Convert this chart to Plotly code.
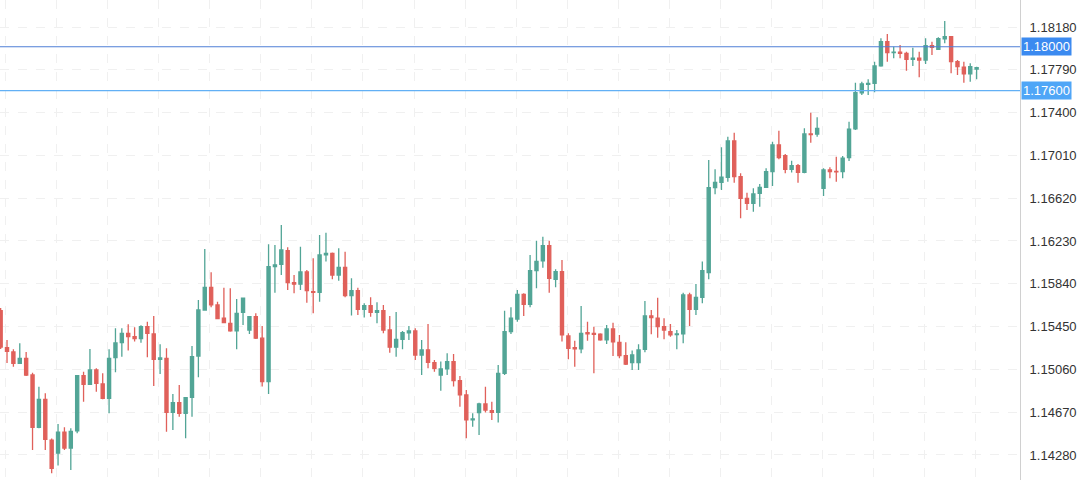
import plotly.graph_objects as go

opens = [1.15595,1.15257,1.15219,1.15115,1.15161,1.15009,1.14532,1.14787,1.14416,1.14298,
1.14489,1.14343,1.14501,1.15003,1.14924,1.15055,1.14927,1.14797,1.15167,1.15303,
1.15389,1.15358,1.15340,1.15449,1.15383,1.15152,1.15161,1.14669,1.14756,1.14660,
1.14806,1.15182,1.15601,1.15808,1.15647,1.15526,1.15480,1.15410,1.15580,1.15419,
1.15540,1.15344,1.14949,1.15996,1.16018,1.16142,1.15850,1.15836,1.15948,1.15768,
1.15763,1.16103,1.16118,1.15920,1.15990,1.15732,1.15777,1.15608,1.15641,1.15580,
1.15595,1.15419,1.15262,1.15334,1.15394,1.15410,1.15191,1.15237,1.15121,1.15009,
1.15064,1.15131,1.14957,1.14827,1.14599,1.14666,1.14745,1.14684,1.14669,1.15024,
1.15404,1.15519,1.15744,1.15653,1.15960,1.16048,1.16187,1.15881,1.15950,1.15365,
1.15258,1.15246,1.15394,1.15389,1.15380,1.15328,1.15428,1.15307,1.15185,1.15121,
1.15121,1.15243,1.15547,1.15526,1.15449,1.15404,1.15377,1.15383,1.15738,1.15608,
1.15717,1.15941,1.16716,1.16765,1.16811,1.17141,1.16816,1.16619,1.16574,1.16665,
1.16719,1.16862,1.17105,1.17007,1.16883,1.16916,1.16856,1.17205,1.17205,1.16710,
1.16877,1.16864,1.16862,1.16989,1.17251,1.17581,1.17658,1.17667,1.17825,1.18046,
1.17946,1.17950,1.17940,1.17886,1.17895,1.17879,1.18010,1.17977,1.18073,1.18092,
1.17864,1.17813,1.17752,1.17797]
highs = [1.15619,1.15328,1.15243,1.15298,1.15219,1.15030,1.14902,1.14842,1.14431,1.14562,
1.14532,1.14523,1.15009,1.15039,1.15246,1.15070,1.15024,1.15243,1.15435,1.15435,
1.15471,1.15444,1.15462,1.15495,1.15547,1.15289,1.15252,1.14836,1.14918,1.14802,
1.15273,1.15692,1.16157,1.15945,1.15677,1.15805,1.15799,1.15702,1.15708,1.15540,
1.15571,1.15455,1.16200,1.16194,1.16376,1.16173,1.15920,1.16178,1.15966,1.16073,
1.16285,1.16306,1.16124,1.16164,1.16133,1.15890,1.15805,1.15663,1.15717,1.15672,
1.15647,1.15547,1.15583,1.15410,1.15455,1.15435,1.15328,1.15474,1.15146,1.15131,
1.15207,1.15201,1.15000,1.14873,1.14660,1.14756,1.14902,1.14766,1.15100,1.15595,
1.15626,1.15784,1.15753,1.16103,1.16233,1.16269,1.16233,1.15972,1.16057,1.15389,
1.15322,1.15638,1.15495,1.15449,1.15389,1.15465,1.15486,1.15374,1.15307,1.15231,
1.15289,1.15684,1.15601,1.15713,1.15526,1.15474,1.15419,1.15759,1.15759,1.15839,
1.16042,1.16968,1.16884,1.17084,1.17180,1.17217,1.16847,1.16670,1.16710,1.16749,
1.16893,1.17135,1.17235,1.17023,1.16962,1.16932,1.17257,1.17399,1.17357,1.16893,
1.16902,1.16998,1.17005,1.17317,1.17672,1.17682,1.17703,1.17864,1.18077,1.18116,
1.18001,1.18016,1.17955,1.17991,1.17955,1.18077,1.18046,1.18086,1.18235,1.18098,
1.17879,1.17864,1.17849,1.17818]
lows = [1.15246,1.15118,1.15084,1.15112,1.15000,1.14325,1.14523,1.14325,1.14113,1.14185,
1.14325,1.14143,1.14477,1.14766,1.14918,1.14857,1.14787,1.14660,1.15034,1.15176,
1.15231,1.15313,1.15303,1.15170,1.14909,1.15018,1.14492,1.14508,1.14629,1.14432,
1.14629,1.14988,1.15598,1.15626,1.15517,1.15480,1.15404,1.15243,1.15465,1.15383,
1.15337,1.14903,1.14836,1.15759,1.15920,1.15784,1.15754,1.15784,1.15668,1.15571,
1.15677,1.16042,1.15881,1.15868,1.15717,1.15550,1.15556,1.15532,1.15540,1.15480,
1.15389,1.15212,1.15176,1.15243,1.15328,1.15146,1.15009,1.15070,1.15039,1.14866,
1.15009,1.14903,1.14720,1.14432,1.14538,1.14462,1.14666,1.14599,1.14575,1.15009,
1.15383,1.15495,1.15547,1.15626,1.15799,1.15987,1.15759,1.15808,1.15313,1.15152,
1.15084,1.15207,1.15322,1.15024,1.15322,1.15292,1.15182,1.15161,1.15100,1.15055,
1.15055,1.15216,1.15380,1.15349,1.15334,1.15358,1.15243,1.15298,1.15455,1.15556,
1.15663,1.15881,1.16656,1.16695,1.16770,1.16761,1.16437,1.16512,1.16497,1.16543,
1.16716,1.16731,1.16975,1.16847,1.16853,1.16761,1.16847,1.17126,1.17180,1.16640,
1.16802,1.16770,1.16802,1.16959,1.17241,1.17561,1.17561,1.17585,1.17818,1.17864,
1.17895,1.17895,1.17782,1.17825,1.17722,1.17843,1.17925,1.17970,1.18031,1.17758,
1.17743,1.17673,1.17682,1.17703]
closes = [1.15264,1.15224,1.15115,1.15161,1.15009,1.14532,1.14787,1.14423,1.14158,1.14489,
1.14343,1.14495,1.15003,1.14924,1.15055,1.14933,1.14797,1.15161,1.15301,1.15389,
1.15358,1.15340,1.15449,1.15389,1.15152,1.15164,1.14669,1.14756,1.14660,1.14802,
1.15176,1.15601,1.15808,1.15647,1.15522,1.15486,1.15410,1.15571,1.15708,1.15540,
1.15344,1.14949,1.15996,1.16011,1.16148,1.15850,1.15836,1.15948,1.15777,1.15763,
1.16103,1.16118,1.15920,1.15990,1.15732,1.15777,1.15608,1.15641,1.15580,1.15595,
1.15419,1.15262,1.15334,1.15394,1.15410,1.15191,1.15237,1.15125,1.15070,1.15064,
1.15131,1.14957,1.14827,1.14599,1.14608,1.14745,1.14690,1.14669,1.15024,1.15404,
1.15526,1.15744,1.15653,1.15960,1.16045,1.16187,1.15890,1.15950,1.15374,1.15252,
1.15246,1.15389,1.15383,1.15380,1.15328,1.15428,1.15310,1.15185,1.15107,1.15191,
1.15237,1.15547,1.15532,1.15449,1.15419,1.15374,1.15383,1.15738,1.15608,1.15717,
1.15960,1.16716,1.16765,1.16811,1.17141,1.16816,1.16619,1.16574,1.16659,1.16719,
1.16862,1.17105,1.16989,1.16883,1.16916,1.16856,1.17205,1.17199,1.17257,1.16877,
1.16862,1.16859,1.16984,1.17248,1.17581,1.17661,1.17667,1.17825,1.18046,1.17946,
1.17950,1.17940,1.17886,1.17895,1.17879,1.18010,1.17995,1.18073,1.18092,1.17864,
1.17818,1.17752,1.17818,1.17809]

tick_vals = [1.14280,1.14670,1.15060,1.15450,1.15840,1.16230,1.16620,1.17010,1.17400,1.17790,1.18180]
levels = [1.18000, 1.17600]
level_line_colors = ["#4f7fd6", "#62b0f5"]
level_bg_colors = ["#3b8af0", "#4fa6f7"]

x = list(range(len(opens)))

fig = go.Figure(go.Candlestick(
    x=x, open=opens, high=highs, low=lows, close=closes,
    increasing=dict(line=dict(color="#52a596", width=1.3), fillcolor="#52a596"),
    decreasing=dict(line=dict(color="#e0605a", width=1.3), fillcolor="#e0605a"),
    whiskerwidth=0, hoverinfo="skip"))

for lv, lc, bg in zip(levels, level_line_colors, level_bg_colors):
    fig.add_shape(type="line", xref="paper", x0=0, x1=1, y0=lv, y1=lv,
                  line=dict(color=lc, width=1.2))
    fig.add_annotation(xref="paper", x=1.0, y=lv, xanchor="left", yanchor="middle",
                       text=f"{lv:.5f}", showarrow=False, bgcolor=bg,
                       font=dict(color="white", size=13, family="Liberation Sans"),
                       borderpad=1, xshift=1)

fig.update_layout(
    width=1080, height=480, margin=dict(l=0, r=60, t=0, b=0),
    paper_bgcolor="white", plot_bgcolor="white", showlegend=False,
    xaxis=dict(range=[-0.1, 159.8], rangeslider=dict(visible=False),
               showticklabels=False, tick0=0.8, dtick=8,
               showgrid=True, gridcolor="#f0f0f0", griddash="dash", zeroline=False),
    yaxis=dict(side="right", range=[1.14052, 1.18426], tickvals=tick_vals,
               ticktext=[f"{v:.5f}" for v in tick_vals],
               tickfont=dict(size=13, color="#333333", family="Liberation Sans"),
               showgrid=True, gridcolor="#f0f0f0", griddash="dash", zeroline=False,
               showline=True, linecolor="#d0d0d0", ticks="", ticklabelstandoff=6),
)

fig.write_html("out.html", config={"displayModeBar": False},
               post_script="document.body.style.margin='0';document.body.style.overflow='hidden';")
